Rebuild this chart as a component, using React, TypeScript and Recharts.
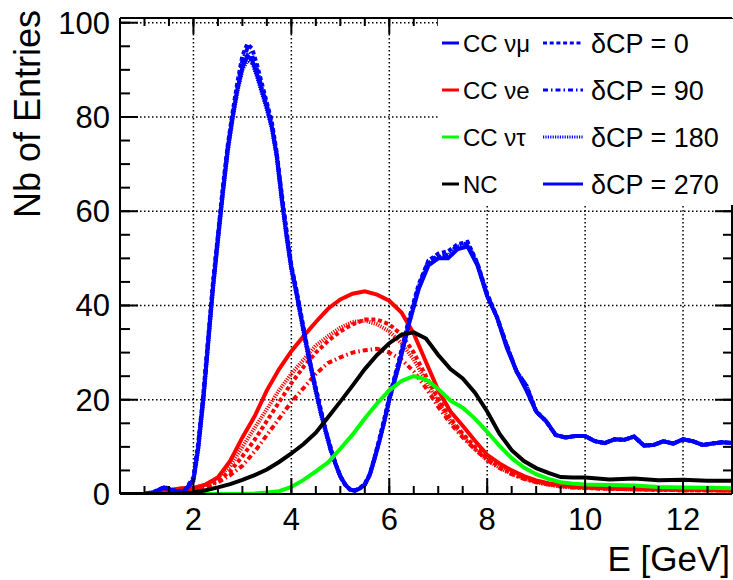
import React from 'react';
import { LineChart, Line, XAxis, YAxis, CartesianGrid, Legend } from 'recharts';

const FONT = '"Liberation Sans", Arial, Helvetica, sans-serif';

// Energy grid for the CC numu histograms (fine near the sharp peak)
const energyFine = [
  0.5, 1.0, 1.2, 1.4, 1.6, 1.8,
  2.0, 2.1, 2.2, 2.3, 2.4, 2.5, 2.6, 2.7, 2.8, 2.9,
  3.0, 3.1, 3.2, 3.3, 3.4, 3.5, 3.6, 3.7, 3.8, 3.9,
  4.0, 4.1, 4.2, 4.3, 4.4, 4.5, 4.6, 4.7, 4.8, 4.9,
  5.0, 5.1, 5.2, 5.3, 5.4, 5.5, 5.6, 5.7, 5.8, 5.9,
  6.0, 6.2, 6.4, 6.6, 6.8, 7.0, 7.2, 7.4, 7.6, 7.8,
  8.0, 8.2, 8.4, 8.6, 8.8, 9.0, 9.2, 9.4, 9.6, 9.8,
  10.0, 10.2, 10.4, 10.6, 10.8, 11.0, 11.2, 11.4, 11.6, 11.8,
  12.0, 12.2, 12.4, 12.6, 12.8, 13.0,
];

const numuDcp0 = [
  0, 0, 0.5, 1.5, 0.8, 0.5,
  3.5, 11, 21, 33, 45, 55, 65, 74, 81, 87.5,
  93, 95.5, 94.5, 91, 87, 83, 79, 72.5, 64, 56,
  48.5, 43.5, 38, 32.5, 27, 22.5, 18, 13.5, 10, 6.5,
  3.8, 2, 1, 0.8, 1.3, 2.2, 4.2, 7.8, 11.8, 16,
  20.5, 28.5, 37, 44.5, 49.5, 51, 51.5, 53, 53.5, 49,
  42.5, 37.5, 31.5, 26, 23, 17.5, 15.5, 12.5, 12, 12.3,
  12.3, 11.2, 10.8, 11.6, 11.5, 12.2, 10.3, 10.4, 11.2, 10.7,
  11.6, 11.2, 10.4, 10.7, 11, 10.8,
];

const numuDcp90 = [
  0, 0, 0.4, 1.3, 0.7, 0.4,
  3, 10.5, 20.5, 32.5, 44.5, 54.5, 64.5, 73.5, 80.5, 86.5,
  92, 94.5, 93, 90, 86, 82.5, 78.5, 72, 63.5, 55.5,
  48, 43, 37.5, 32, 27, 22, 17.5, 13.5, 9.5, 6.5,
  3.8, 2, 0.9, 0.7, 1.2, 2, 4, 7.6, 11.5, 15.8,
  20.3, 28, 36.5, 44, 49.5, 50.5, 50.8, 52.8, 53.2, 48.8,
  42.2, 37.5, 31.5, 26, 23, 17.5, 15.5, 12.5, 12, 12.3,
  12.3, 11.2, 10.8, 11.6, 11.5, 12.2, 10.3, 10.4, 11.2, 10.7,
  11.6, 11.2, 10.4, 10.7, 11, 10.8,
];

const numuDcp180 = [
  0, 0, 0.4, 1.3, 0.7, 0.4,
  2.8, 9.5, 19.5, 31.5, 43.5, 53.5, 63.5, 72.5, 79.5, 85.5,
  90, 92, 91.5, 88.5, 85, 81.5, 77.5, 71.5, 62.5, 54.5,
  47.5, 42.5, 37, 31.5, 26.5, 21.5, 17, 13, 9.3, 6.3,
  3.6, 1.9, 0.9, 0.7, 1.2, 2, 4, 7.5, 11.2, 15.3,
  19.8, 27.5, 36, 43.5, 49, 50.3, 50.5, 52.5, 53, 48.8,
  42, 37.5, 31.5, 26, 23, 17.5, 15.5, 12.5, 12, 12.3,
  12.3, 11.2, 10.8, 11.6, 11.5, 12.2, 10.3, 10.4, 11.2, 10.7,
  11.6, 11.2, 10.4, 10.7, 11, 10.8,
];

const numuDcp270 = [
  0, 0, 0.4, 1.4, 0.7, 0.4,
  3, 10, 20, 32, 44, 54, 64, 73, 80, 86,
  90.5, 93, 92, 89, 85.5, 82, 78, 72, 63, 55,
  48, 43, 37.5, 32, 27, 22, 17.5, 13.5, 9.5, 6.5,
  3.8, 2, 0.9, 0.7, 1.2, 2, 4, 7.5, 11.3, 15.5,
  20, 27.5, 36, 43.5, 48.5, 50, 50, 52, 52.5, 48.5,
  42, 37.5, 31, 26, 22, 17.5, 15.5, 12.5, 12, 12.3,
  12.3, 11.2, 10.8, 11.6, 11.5, 12.2, 10.3, 10.4, 11.2, 10.7,
  11.6, 11.2, 10.4, 10.7, 11, 10.8,
];

// Energy grid for the smoother histograms
const energyCoarse = [
  0.5, 1.0, 1.25, 1.5, 1.75, 2.0,
  2.25, 2.5, 2.75, 3.0, 3.25, 3.5, 3.75, 4.0, 4.25, 4.5,
  4.75, 5.0, 5.25, 5.5, 5.75, 6.0, 6.25, 6.5, 6.75, 7.0,
  7.25, 7.5, 7.75, 8.0, 8.25, 8.5, 8.75, 9.0, 9.25, 9.5,
  9.75, 10.0,
  10.5, 11.0, 11.5, 12.0, 12.5, 13.0,
];

const nueDcp0 = [
  0, 0, 0.2, 0.7, 1, 1,
  1.5, 2.8, 4.8, 8, 11.5, 15.5, 19.5, 23.5, 27, 30,
  32.5, 34.5, 36, 37, 37, 36, 33.8, 30, 25, 20.2,
  16, 12.8, 10, 7.5, 5.8, 4.5, 3.4, 2.6, 2.1, 1.7,
  1.5, 1.3,
  1.1, 1, 0.9, 0.8, 0.8, 0.7,
];

const nueDcp90 = [
  0, 0, 0.2, 0.6, 0.9, 1,
  1.4, 2.5, 4, 6, 9, 12.5, 16, 19.5, 22.5, 25.5,
  27.8, 29, 30, 30.5, 30.8, 30, 28.5, 26, 22.5, 18.5,
  15, 12, 9.5, 7.2, 5.5, 4.2, 3.2, 2.5, 2, 1.6,
  1.4, 1.3,
  1.1, 1, 0.9, 0.8, 0.8, 0.7,
];

const nueDcp180 = [
  0, 0, 0.2, 0.8, 1.1, 1.2,
  2, 3.5, 6, 10, 14, 18, 22, 25.5, 28.5, 31.5,
  33.5, 35.3, 36.5, 36.8, 36, 34.5, 32, 28.5, 24, 19.5,
  15.5, 12.3, 9.5, 7.2, 5.6, 4.3, 3.3, 2.5, 2, 1.6,
  1.4, 1.3,
  1.1, 1, 0.9, 0.8, 0.8, 0.7,
];

const nueDcp270 = [
  0, 0, 0.2, 0.8, 1.2, 1.3,
  2, 3.5, 7, 12, 16.5, 22, 26.5, 30.3, 33.5, 36.5,
  39.3, 41.3, 42.5, 43, 42.3, 41, 38.5, 34, 28, 22,
  17.5, 14.5, 11.3, 8.3, 6.5, 5, 3.8, 2.9, 2.3, 1.9,
  1.6, 1.4,
  1.2, 1.1, 1, 0.9, 0.9, 0.8,
];

const nutau = [
  0, 0, 0, 0, 0, 0,
  0, 0, 0, 0, 0.1, 0.3, 0.6, 1.5, 3, 4.8,
  6.7, 9.6, 12.6, 16, 19.2, 22, 24, 25, 24.3, 22.3,
  19.8, 18.3, 16, 13.2, 10.2, 7.6, 5.6, 4.2, 3.2, 2.5,
  2.2, 2,
  1.9, 1.8, 1.5, 1.4, 1.3, 1.2,
];

const nc = [
  0, 0, 0, 0, 0.1, 0.3,
  0.8, 1.4, 2.1, 3, 4, 5.2, 6.8, 8.6, 10.6, 13,
  16.3, 19.6, 23, 26.5, 29.5, 32, 33.8, 34.3, 33, 29.5,
  26.5, 24.5, 21.5, 17.5, 12.8, 9.3, 7, 5.5, 4.5, 3.6,
  3.5, 3.5,
  3.1, 3.3, 2.9, 3.0, 2.8, 2.8,
];

const xMajorTicks = [2, 4, 6, 8, 10, 12];
const xMinorTicks = [0.5, 1, 1.5, 2, 2.5, 3, 3.5, 4, 4.5, 5, 5.5, 6, 6.5, 7, 7.5, 8, 8.5, 9, 9.5, 10, 10.5, 11, 11.5, 12, 12.5, 13];
const yMajorTicks = [0, 20, 40, 60, 80, 100];
const yMinorTicks = [0, 5, 10, 15, 20, 25, 30, 35, 40, 45, 50, 55, 60, 65, 70, 75, 80, 85, 90, 95, 100];

const channelLabels = ['CC νμ', 'CC νe', 'CC ντ', 'NC'];
const channelColors = ['#0000ff', '#ff0000', '#00ff00', '#000000'];
const dcpLabels = ['δCP = 0', 'δCP = 90', 'δCP = 180', 'δCP = 270'];
const dcpDash = ['4 2.7', '5 3 1.5 3', '1.2 1.2', undefined];

const BLUE = channelColors[0];
const RED = channelColors[1];
const GREEN = channelColors[2];
const BLACK = channelColors[3];

function toPoints(xs: number[], ys: number[]) {
  return xs.map((e, i) => ({ e, n: ys[i] }));
}

const curves = [
  { id: 'nue0', xs: energyCoarse, ys: nueDcp0, color: RED, dash: dcpDash[0] },
  { id: 'nue90', xs: energyCoarse, ys: nueDcp90, color: RED, dash: dcpDash[1] },
  { id: 'nue180', xs: energyCoarse, ys: nueDcp180, color: RED, dash: dcpDash[2] },
  { id: 'nue270', xs: energyCoarse, ys: nueDcp270, color: RED, dash: dcpDash[3] },
  { id: 'numu0', xs: energyFine, ys: numuDcp0, color: BLUE, dash: dcpDash[0] },
  { id: 'numu90', xs: energyFine, ys: numuDcp90, color: BLUE, dash: dcpDash[1] },
  { id: 'numu180', xs: energyFine, ys: numuDcp180, color: BLUE, dash: dcpDash[2] },
  { id: 'numu270', xs: energyFine, ys: numuDcp270, color: BLUE, dash: dcpDash[3] },
  { id: 'nutau', xs: energyCoarse, ys: nutau, color: GREEN, dash: undefined },
  { id: 'nc', xs: energyCoarse, ys: nc, color: BLACK, dash: undefined },
];

const LegendBox = () => (
  <svg width={295} height={186} style={{ display: 'block', background: '#ffffff' }}>
    <rect x={0} y={0} width={295} height={186} fill="#ffffff" />
    {channelLabels.map((lab, i) => {
      const cy = 24 + 47 * i;
      return (
        <g key={lab}>
          <line x1={4} x2={21} y1={cy} y2={cy} stroke={channelColors[i]} strokeWidth={3} />
          <text x={25} y={cy} dy="0.36em" fontSize={24} fontFamily={FONT} fill="#000">{lab}</text>
          <line x1={105} x2={145} y1={cy} y2={cy} stroke={BLUE} strokeWidth={3} strokeDasharray={dcpDash[i]} />
          <text x={153} y={cy} dy="0.36em" fontSize={27} fontFamily={FONT} fill="#000">{dcpLabels[i]}</text>
        </g>
      );
    })}
  </svg>
);

const EmptyTick = () => <g />;
const tickLineStyle = { stroke: '#000', strokeWidth: 2 };
const axisLineStyle = { stroke: '#000', strokeWidth: 2 };
const DOMAIN_X: [number, number] = [0.5, 13];
const DOMAIN_Y: [number, number] = [0, 101];
const THIN = 0.01;

export default function App() {
  return (
    <div style={{ position: 'absolute', left: 0, top: 0, width: 733, height: 580, background: '#fff' }}>
      <LineChart width={733} height={580} margin={{ top: 18, right: 1, left: 0, bottom: 0 }}>
        {/* inward minor/major ticks on all four sides */}
        <XAxis xAxisId="bMinor" type="number" dataKey="e" domain={DOMAIN_X} allowDataOverflow orientation="bottom" mirror height={THIN}
          ticks={xMinorTicks} interval={0} tick={EmptyTick} tickSize={8} tickLine={tickLineStyle} axisLine={false} />
        <XAxis xAxisId="bMajor" type="number" dataKey="e" domain={DOMAIN_X} allowDataOverflow orientation="bottom" mirror height={THIN}
          ticks={xMajorTicks} interval={0} tick={EmptyTick} tickSize={16} tickLine={tickLineStyle} axisLine={false} />
        <XAxis xAxisId="tMinor" type="number" dataKey="e" domain={DOMAIN_X} allowDataOverflow orientation="top" mirror height={THIN}
          ticks={xMinorTicks} interval={0} tick={EmptyTick} tickSize={8} tickLine={tickLineStyle} axisLine={false} />
        <XAxis xAxisId="tMajor" type="number" dataKey="e" domain={DOMAIN_X} allowDataOverflow orientation="top" mirror height={THIN}
          ticks={xMajorTicks} interval={0} tick={EmptyTick} tickSize={16} tickLine={tickLineStyle} axisLine={axisLineStyle} />
        <YAxis yAxisId="lMinor" type="number" domain={DOMAIN_Y} allowDataOverflow orientation="left" mirror width={THIN}
          ticks={yMinorTicks} interval={0} tick={EmptyTick} tickSize={10} tickLine={tickLineStyle} axisLine={false} />
        <YAxis yAxisId="lMajor" type="number" domain={DOMAIN_Y} allowDataOverflow orientation="left" mirror width={THIN}
          ticks={yMajorTicks} interval={0} tick={EmptyTick} tickSize={18} tickLine={tickLineStyle} axisLine={false} />
        <YAxis yAxisId="rMinor" type="number" domain={DOMAIN_Y} allowDataOverflow orientation="right" mirror width={THIN}
          ticks={yMinorTicks} interval={0} tick={EmptyTick} tickSize={9} tickLine={tickLineStyle} axisLine={false} />
        <YAxis yAxisId="rMajor" type="number" domain={DOMAIN_Y} allowDataOverflow orientation="right" mirror width={THIN}
          ticks={yMajorTicks} interval={0} tick={EmptyTick} tickSize={17} tickLine={tickLineStyle} axisLine={axisLineStyle} />

        <XAxis xAxisId="e" type="number" dataKey="e" domain={DOMAIN_X} allowDataOverflow height={86}
          ticks={xMajorTicks} interval={0} tickSize={0} tickMargin={14} tickLine={false} axisLine={axisLineStyle}
          tick={{ fill: '#000', fontSize: 31, fontFamily: FONT }}
          label={({ viewBox }: any) => (
            <text x={viewBox.x + viewBox.width - 2} y={viewBox.y + 77} textAnchor="end" fontSize={35} fontFamily={FONT} fill="#000">E [GeV]</text>
          )} />
        <YAxis yAxisId="n" type="number" domain={DOMAIN_Y} allowDataOverflow width={120}
          ticks={yMajorTicks} interval={0} tickSize={0} tickMargin={10} tickLine={false} axisLine={axisLineStyle}
          tick={{ fill: '#000', fontSize: 31, fontFamily: FONT }}
          label={({ viewBox }: any) => (
            <text x={viewBox.x + 40} y={viewBox.y - 8} textAnchor="end" fontSize={36} fontFamily={FONT} fill="#000"
              transform={`rotate(-90, ${viewBox.x + 40}, ${viewBox.y - 8})`}>Nb of Entries</text>
          )} />

        <CartesianGrid xAxisId="e" yAxisId="n" stroke="#000" strokeWidth={1.5} strokeDasharray="1.5 2.5" />

        {curves.map((c) => (
          <Line key={c.id} xAxisId="e" yAxisId="n" data={toPoints(c.xs, c.ys)} dataKey="n" type="linear"
            stroke={c.color} strokeWidth={4} strokeDasharray={c.dash} dot={false} activeDot={false}
            isAnimationActive={false} />
        ))}

        <Legend layout="horizontal" verticalAlign="middle" align="center" content={() => <LegendBox />}
          wrapperStyle={{ left: 438, top: 19, width: 295, height: 186 }} />
      </LineChart>
    </div>
  );
}
